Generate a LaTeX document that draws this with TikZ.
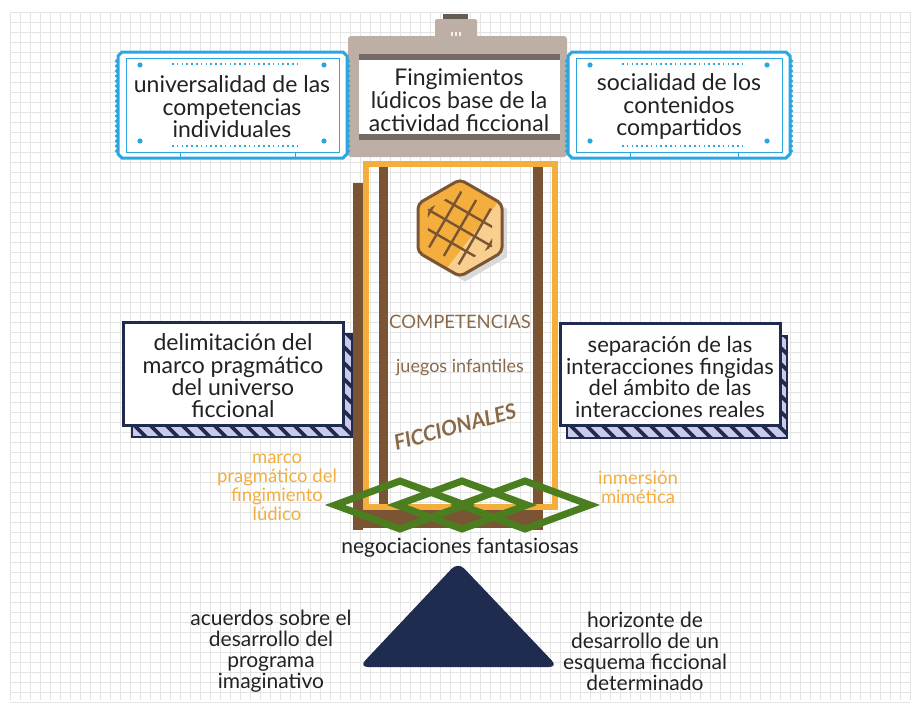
\documentclass[tikz,border=0pt]{standalone}
\usepackage{fontspec}
\setmainfont{Lato}
\usetikzlibrary{shapes.geometric}

\definecolor{bleu}{HTML}{2AA7E1}
\definecolor{taupe}{HTML}{BDAFA5}
\definecolor{taupefonce}{HTML}{766B64}
\definecolor{ambre}{HTML}{F3AE3D}
\definecolor{ambreclair}{HTML}{F8CF8E}
\definecolor{brun}{HTML}{7A5433}
\definecolor{bruntexte}{HTML}{8A6949}
\definecolor{vert}{HTML}{4B7E1F}
\definecolor{marine}{HTML}{1F2B4F}
\definecolor{lavande}{HTML}{CCCAEB}
\definecolor{grille}{HTML}{E4E4E4}
\definecolor{encre}{HTML}{222222}

\begin{document}
\begin{tikzpicture}[x=1pt, y=-1pt,
    texte/.style = {align=center, text=encre, inner sep=0pt, font=\fontsize{23}{22.5}\selectfont},
    ocre/.style = {align=center, text=ambre, inner sep=0pt, font=\fontsize{18.5}{19}\selectfont},
    hexa/.style = {regular polygon, regular polygon sides=6, shape border rotate=30, minimum size=97, inner sep=0pt}]
                \useasboundingbox (0,0) rectangle (919,704);

                % Fond quadrillé
                \foreach \gx in {10,20,...,910} \draw[grille, line width=0.6] (\gx,12) -- (\gx,700);
                \foreach \gy in {12,22,...,702} \draw[grille, line width=0.6] (10,\gy) -- (910,\gy);

                % Pieds
                \fill[brun] (353,183) rectangle (363,530);
                \fill[brun] (379,167) rectangle (388,507);
                \fill[brun] (533,167) rectangle (543,530);
                \fill[brun] (353,510) rectangle (543,528);
                \draw[ambre, line width=6] (366,164) rectangle (555,507);

                % Gaufre
                \node[hexa, fill=black!15] (ombre) at (465,233) {};
                \node[hexa, fill=ambre] (gaufre) at (460,228) {};
                \begin{scope}
                \clip (gaufre.corner 1) -- (gaufre.corner 2) -- (gaufre.corner 3) -- (gaufre.corner 4) -- (gaufre.corner 5) -- (gaufre.corner 6) -- cycle;
                \fill[ambreclair] (506,192) -- (430,290) -- (520,290) -- (520,192) -- cycle;
                \end{scope}
                \node[hexa, minimum size=74] (creux) at (460,228) {};
                \begin{scope}
                \clip (creux.corner 1) -- (creux.corner 2) -- (creux.corner 3) -- (creux.corner 4) -- (creux.corner 5) -- (creux.corner 6) -- cycle;
                \foreach \o in {-34,-17,0,17,34} {
                    \draw[brun, line width=2.4] ({460-0.5*\o-52},{228+0.87*\o-30}) -- ({460-0.5*\o+52},{228+0.87*\o+30});
                    \draw[brun, line width=2.4] ({460+0.87*\o-30},{228+0.5*\o+52}) -- ({460+0.87*\o+30},{228+0.5*\o-52});
                }
                \end{scope}
                \node[hexa, draw=brun, line width=3, rounded corners=5] at (460,228) {};

                % Textes du centre
                \node[text=bruntexte, inner sep=0pt, font=\fontsize{18.5}{20}\selectfont] (compet) at (460,322) {COMPETENCIAS};
                \node[text=bruntexte, inner sep=0pt, font=\fontsize{18}{19}\selectfont] (juegos) at (460,368) {juegos infantiles};
                \node[text=bruntexte, inner sep=0pt, rotate=15, font=\fontsize{21}{22}\selectfont\bfseries\itshape] (ficc) at (455,427) {FICCIONALES};

                % Losanges
                \foreach \cx in {400,462,525}
                    \draw[vert, line width=7] (\cx-65,505) -- (\cx,481) -- (\cx+65,505) -- (\cx,529) -- cycle;

                % Écran
                \fill[taupefonce!85!black] (443,14) rectangle (468,21);
                \fill[taupe, rounded corners=2] (435,19) rectangle (477,40);
                \fill[taupe, rounded corners=3] (348,36) rectangle (567,157);
                \foreach \d in {-4,0,4} \fill[white!80!taupe] (456+\d-0.8,32) rectangle ++(1.6,4);
                \fill[white] (359,54) rectangle (560,140);
                \fill[taupefonce] (359,54) rectangle (560,60);
                \fill[taupefonce] (359,134) rectangle (560,140);
                \node[texte, font=\fontsize{23}{23}\selectfont] (fing) at (459,100) {Fingimientos\\lúdicos base de la\\actividad ficcional};

                % Billets
                \foreach \xa/\xb in {118/347, 568/790} {
                    \foreach \k in {0,...,18} {
                        \fill[bleu] (\xa-1.5,61+5*\k) circle (1.8);
                        \fill[bleu] (\xb+1.5,61+5*\k) circle (1.8);
                    }
                    \draw[bleu, line width=3, fill=white] (\xa+4,52) -- (\xb-4,52) -- (\xb,56) -- (\xb,154) -- (\xb-4,158) -- (\xa+4,158) -- (\xa,154) -- (\xa,56) -- cycle;
                    \draw[bleu, line width=0.8] (\xa+8,58) rectangle (\xb-8,152);
                    \fill[bleu] (\xa+22,65) circle (2.6) (\xb-23,65) circle (2.6) (\xa+22,141) circle (2.6) (\xb-23,141) circle (2.6);
                    \draw[bleu, line width=1.6, dash pattern=on 1.6 off 3.2] (\xa+54,64) -- (\xb-47,64);
                    \draw[bleu, line width=1.6, dash pattern=on 1.6 off 3.2] (\xa+54,146) -- (\xb-47,146);
                    \draw[bleu, line width=1] (\xa+62,152) -- (\xa+62,158) (\xb-52,152) -- (\xb-52,158);
                }
                \node[texte] (univ) at (232,107) {universalidad de las\\competencias\\individuales};
                \node[texte] (social) at (679,107) {socialidad de los\\contenidos\\compartidos};

                % Cadres hachurés
                \foreach \xa/\xb/\ya/\yb/\dx/\dy in {123/343/322/425/9/12, 560/780/323/425/7/13} {
                    \begin{scope}
                    \clip (\xa+\dx,\ya+\dy) rectangle (\xb+\dx,\yb+\dy);
                    \fill[lavande] (\xa+\dx,\ya+\dy) rectangle (\xb+\dx,\yb+\dy);
                    \foreach \s in {-140,-124,...,240}
                        \draw[marine, line width=3.6] (\xa+\s,\ya) -- ++(140,140);
                    \end{scope}
                    \draw[marine, line width=2.4] (\xa+\dx,\ya+\dy) rectangle (\xb+\dx,\yb+\dy);
                    \draw[marine, line width=3, fill=white] (\xa,\ya) rectangle (\xb,\yb);
                }
                \node[texte, font=\fontsize{23}{22.3}\selectfont] (delim) at (233,376) {delimitación del\\marco pragmático\\del universo\\ficcional};
                \node[texte, font=\fontsize{22}{21.5}\selectfont] (separ) at (670,377) {separación de las\\interacciones fingidas\\del ámbito de las\\interacciones reales};

                % Étiquettes ocre
                \node[ocre] (marco) at (277,487) {marco\\pragmático del\\fingimiento\\lúdico};
                \node[ocre] (inmer) at (638,487) {inmersión\\mimética};

                % Triangle et négociations
                \node[texte, font=\fontsize{21}{22}\selectfont] (nego) at (460,548) {negociaciones fantasiosas};
                \fill[marine, rounded corners=9] (458,562) -- (558,667) -- (359,667) -- cycle;
                \node[texte, font=\fontsize{21}{21}\selectfont] (acuer) at (271,651) {acuerdos sobre el\\desarrollo del\\programa\\imaginativo};
                \node[texte, font=\fontsize{21}{21}\selectfont] (horiz) at (645,651) {horizonte de\\desarrollo de un\\esquema ficcional\\determinado};
                \end{tikzpicture}
\end{document}
